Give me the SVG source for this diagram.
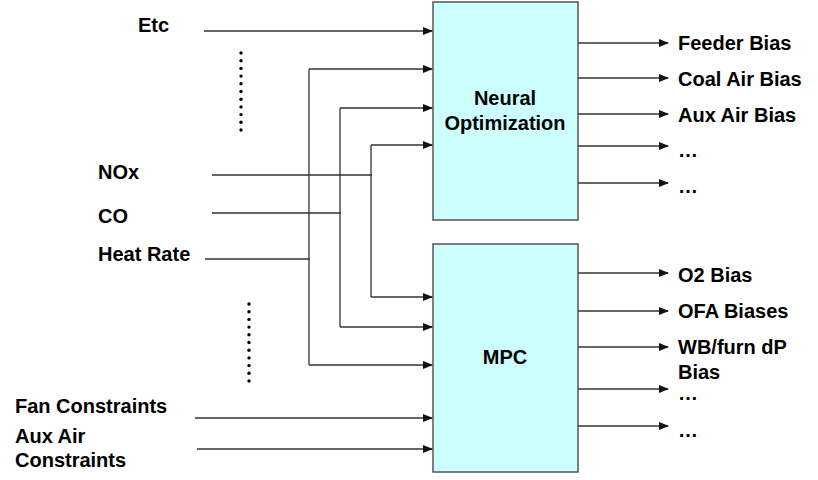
<svg xmlns="http://www.w3.org/2000/svg" width="818" height="480" viewBox="0 0 818 480">
<defs>
<marker id="ah" markerWidth="10" markerHeight="8" refX="9" refY="4" orient="auto" markerUnits="userSpaceOnUse">
<path d="M0,0 L10,4 L0,8 Z" fill="#111"/>
</marker>
<style>
text{font-family:"Liberation Sans",Arial,sans-serif;font-weight:bold;font-size:20px;fill:#000}
.box{fill:#CCFFFF;stroke:#555;stroke-width:1.5}
.ln{fill:none;stroke:#333;stroke-width:1.3}
.ar{fill:none;stroke:#333;stroke-width:1.3;marker-end:url(#ah)}
.dot{fill:#000}
</style>
</defs>
<rect width="818" height="480" fill="#fff"/>
<g id="neural">
<rect class="box" x="433" y="2" width="145" height="218"/>
<text x="505" y="105" text-anchor="middle">Neural</text>
<text x="505" y="130" text-anchor="middle">Optimization</text>
</g>
<g id="mpc">
<rect class="box" x="433" y="244" width="145" height="228"/>
<text x="505" y="364" text-anchor="middle">MPC</text>
</g>
<g id="inputs">
<text x="138" y="32">Etc</text>
<text x="98" y="179">NO<tspan>x</tspan></text>
<text x="98" y="223">CO</text>
<text x="98" y="261">Heat Rate</text>
<text x="15" y="413">Fan Constraints</text>
<text x="15" y="443">Aux Air</text>
<text x="15" y="467">Constraints</text>
</g>
<g id="outputs">
<text x="678" y="50">Feeder Bias</text>
<text x="678" y="86">Coal Air Bias</text>
<text x="678" y="122">Aux Air Bias</text>
<text x="678" y="157">…</text>
<text x="678" y="193">…</text>
<text x="678" y="282">O2 Bias</text>
<text x="678" y="318">OFA Biases</text>
<text x="678" y="354">WB/furn dP</text>
<text x="678" y="379">Bias</text>
<text x="678" y="400">…</text>
<text x="678" y="437">…</text>
</g>
<g id="dots">
<g class="dot">
<circle cx="241" cy="53" r="1.7"/><circle cx="241" cy="60.7" r="1.7"/><circle cx="241" cy="68.4" r="1.7"/><circle cx="241" cy="76.1" r="1.7"/><circle cx="241" cy="83.8" r="1.7"/><circle cx="241" cy="91.5" r="1.7"/><circle cx="241" cy="99.2" r="1.7"/><circle cx="241" cy="106.9" r="1.7"/><circle cx="241" cy="114.6" r="1.7"/><circle cx="241" cy="122.3" r="1.7"/><circle cx="241" cy="130" r="1.7"/>
<circle cx="249" cy="304" r="1.7"/><circle cx="249" cy="311.7" r="1.7"/><circle cx="249" cy="319.4" r="1.7"/><circle cx="249" cy="327.1" r="1.7"/><circle cx="249" cy="334.8" r="1.7"/><circle cx="249" cy="342.5" r="1.7"/><circle cx="249" cy="350.2" r="1.7"/><circle cx="249" cy="357.9" r="1.7"/><circle cx="249" cy="365.6" r="1.7"/><circle cx="249" cy="373.3" r="1.7"/><circle cx="249" cy="381" r="1.7"/>
</g>
</g>
<g id="connectors">
<line class="ar" x1="204" y1="31" x2="432" y2="31"/>
<line class="ar" x1="309" y1="69" x2="432" y2="69"/>
<line class="ar" x1="340" y1="108" x2="432" y2="108"/>
<line class="ar" x1="371" y1="145" x2="432" y2="145"/>
<line class="ln" x1="212" y1="175" x2="372" y2="175"/>
<line class="ln" x1="212" y1="213" x2="341" y2="213"/>
<line class="ln" x1="205" y1="259" x2="310" y2="259"/>
<line class="ln" x1="309" y1="69" x2="309" y2="365"/>
<line class="ln" x1="340" y1="108" x2="340" y2="327"/>
<line class="ln" x1="371" y1="145" x2="371" y2="297"/>
<line class="ar" x1="371" y1="297" x2="432" y2="297"/>
<line class="ar" x1="340" y1="327" x2="432" y2="327"/>
<line class="ar" x1="309" y1="365" x2="432" y2="365"/>
<line class="ar" x1="195" y1="418" x2="432" y2="418"/>
<line class="ar" x1="197" y1="449" x2="432" y2="449"/>
<line class="ar" x1="578" y1="43" x2="668" y2="43"/>
<line class="ar" x1="578" y1="78" x2="668" y2="78"/>
<line class="ar" x1="578" y1="114" x2="668" y2="114"/>
<line class="ar" x1="578" y1="146" x2="668" y2="146"/>
<line class="ar" x1="578" y1="183" x2="668" y2="183"/>
<line class="ar" x1="578" y1="273" x2="668" y2="273"/>
<line class="ar" x1="578" y1="311" x2="668" y2="311"/>
<line class="ar" x1="578" y1="347" x2="668" y2="347"/>
<line class="ar" x1="578" y1="389" x2="668" y2="389"/>
<line class="ar" x1="578" y1="426" x2="668" y2="426"/>
</g>
</svg>
